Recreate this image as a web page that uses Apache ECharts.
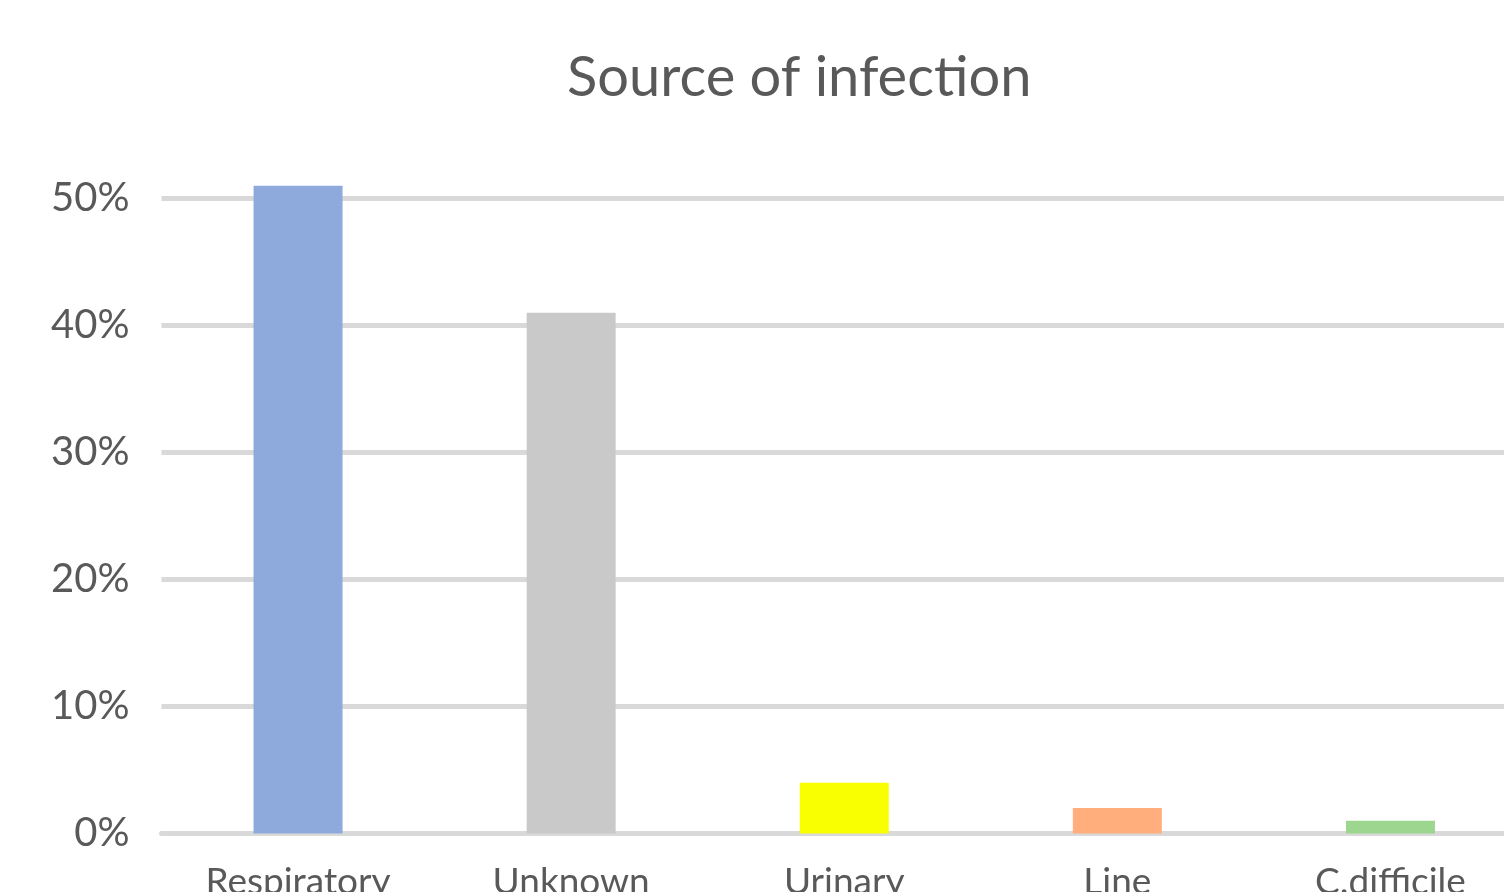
<!DOCTYPE html>
<html>
<head>
<meta charset="utf-8">
<title>Source of infection</title>
<script src="https://cdn.jsdelivr.net/npm/echarts@6/dist/echarts.min.js"></script>
<style>
  html, body { margin: 0; padding: 0; background: #fff; overflow: hidden; }
  #chart { width: 1527px; height: 920px; }
</style>
</head>
<body>
<div id="chart"></div>
<script>
// data
const categories = ['Respiratory', 'Unknown', 'Urinary', 'Line', 'C.difficile'];
const shares = [51, 41, 4, 2, 1]; // percent
const yTicks = [0, 10, 20, 30, 40, 50];

// one colour per bar
const barColors = ['#8EA9DB', '#C9C9C9', '#F9FF00', '#FFAE7C', '#9DD68E'];

const textGrey = '#595959';
const fontName = 'Lato';

const chart = echarts.init(document.getElementById('chart'));

chart.setOption({
    animation: false,
    title: {
        text: 'Source of infection',
        left: 562,
        top: 45,
        textStyle: { color: textGrey, fontFamily: fontName, fontWeight: 'normal', fontSize: 56 }
    },
    grid: { left: 161.5, right: 0, top: 198.5, bottom: 86.5 },
    xAxis: {
        type: 'category',
        data: categories,
        axisTick: { show: false },
        axisLine: { show: true, lineStyle: { color: '#D9D9D9', width: 5 } },
        axisLabel: { color: textGrey, fontFamily: fontName, fontSize: 37, margin: 30 }
    },
    yAxis: {
        type: 'value',
        min: yTicks[0],
        max: yTicks[yTicks.length - 1],
        interval: 10,
        axisLine: { show: false },
        axisTick: { show: false },
        splitLine: { lineStyle: { color: '#D9D9D9', width: 5 } },
        axisLabel: {
            color: textGrey, fontFamily: fontName, fontSize: 40, margin: 32,
            formatter: v => v + '%'
        }
    },
    series: [{
        type: 'bar',
        barWidth: 89,
        clip: false, // Respiratory goes a little past the 50% line
        data: shares.map((v, i) => ({ value: v, itemStyle: { color: barColors[i] } }))
    }]
});
</script>
</body>
</html>
